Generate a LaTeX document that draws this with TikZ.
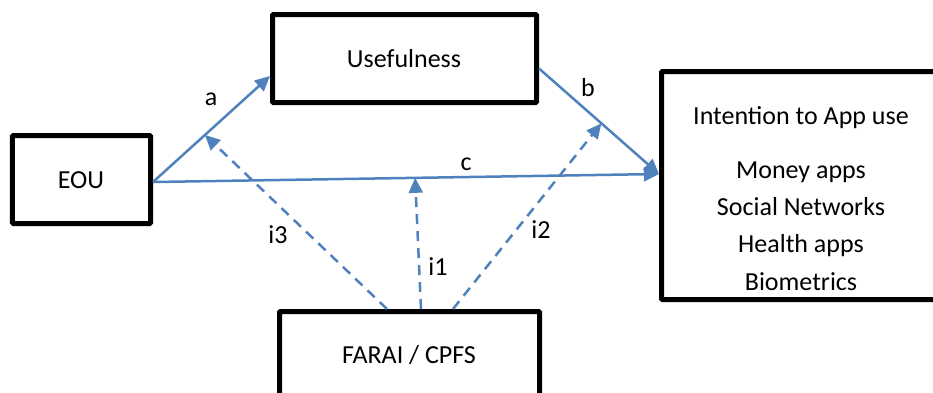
\documentclass[tikz,border=0pt]{standalone}
\usepackage{fontspec}
\setmainfont{Carlito}
\usetikzlibrary{arrows.meta,calc}
\definecolor{arrblue}{HTML}{4F81BD}
\begin{document}
\begin{tikzpicture}[x=1bp,y=-1bp,
  box/.style={draw=black,line width=5bp,rounded corners=1bp,inner sep=0pt},
  txt/.style={anchor=base,inner sep=0pt,font=\fontsize{26bp}{30bp}\selectfont},
  conn/.style={draw=arrblue,line width=2.5bp,-{Triangle[length=15bp,width=14bp]}},
  dconn/.style={conn,dash pattern=on 10bp off 7bp}]
\useasboundingbox (0,0) rectangle (933,392);
\clip (0,0) rectangle (933,392);
% boxes
\node[box,minimum width=138bp,minimum height=88bp] (eou) at (81.5,179.5) {};
\node[box,minimum width=264bp,minimum height=88bp] (use) at (404.5,58.5) {};
\node[box,minimum width=279bp,minimum height=228bp] (int) at (801,185.5) {};
\node[box,minimum width=260bp,minimum height=88bp] (far) at (409.5,355.5) {};
% texts
\node[txt] (teou) at (81,188) {EOU};
\node[txt] (tuse) at (404,67) {Usefulness};
\node[txt] (tfar) at (409,363) {FARAI / CPFS};
\node[txt] (t1) at (801,124) {Intention to App use};
\node[txt] (t2) at (801,178) {Money apps};
\node[txt] (t3) at (801,215.5) {Social Networks};
\node[txt] (t4) at (801,252) {Health apps};
\node[txt] (t5) at (801,290) {Biometrics};
% connector end points
\coordinate (eo) at ([yshift=-2.5bp]eou.east);
\coordinate (ua) at ([yshift=-17.5bp]use.west);
\coordinate (ub) at ([yshift=-10bp]use.east);
\coordinate (ii) at ([yshift=11.5bp]int.west);
% solid paths
\draw[conn] (eo) -- (ua);
\draw[conn] (ub) -- (ii);
\draw[conn] (eo) -- (ii);
% dashed paths
\draw[dconn] ([xshift=11.5bp]far.north) -- ($(eo)!0.518!(ii)$);
\draw[dconn] ([xshift=-22.5bp]far.north) -- ($(eo)!0.444!(ua)$);
\draw[dconn] ([xshift=43.5bp]far.north) -- ($(ub)!0.52!(ii)$);
% labels
\node[txt] (la) at (211,105) {a};
\node[txt] (lb) at (588,96) {b};
\node[txt] (lc) at (466,170) {c};
\node[txt] (li3) at (278,243) {i3};
\node[txt] (li1) at (438,275) {i1};
\node[txt] (li2) at (541,238) {i2};
\end{tikzpicture}
\end{document}
